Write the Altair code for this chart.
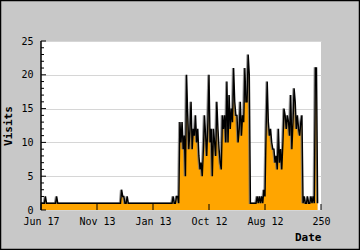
import altair as alt
import pandas as pd

visits = [
    1, 1, 1, 1, 2, 1, 1, 1, 1, 1,
    1, 1, 1, 1, 2, 1, 1, 1, 1, 1,
    1, 1, 1, 1, 1, 1, 1, 1, 1, 1,
    1, 1, 1, 1, 1, 1, 1, 1, 1, 1,
    1, 1, 1, 1, 1, 1, 1, 1, 1, 1,
    1, 1, 1, 1, 1, 1, 1, 1, 1, 1,
    1, 1, 1, 1, 1, 1, 1, 1, 1, 1,
    1, 1, 3, 2, 2, 1, 1, 2, 1, 1,
    1, 1, 1, 1, 1, 1, 1, 1, 1, 1,
    1, 1, 1, 1, 1, 1, 1, 1, 1, 1,
    1, 1, 1, 1, 1, 1, 1, 1, 1, 1,
    1, 1, 1, 1, 1, 1, 1, 1, 2, 1,
    1, 2, 2, 1, 13, 10, 13, 9, 11, 5,
    20, 14, 9, 12, 16, 9, 12, 11, 14, 10,
    12, 8, 6, 7, 5, 9, 14, 11, 8, 13,
    20, 10, 12, 5, 12, 10, 8, 16, 12, 9,
    7, 6, 14, 12, 14, 10, 19, 10, 17, 12,
    15, 13, 21, 16, 14, 14, 10, 12, 16, 11,
    14, 13, 21, 16, 16, 23, 20, 1, 1, 1,
    1, 1, 1, 2, 1, 2, 1, 2, 1, 3,
    2, 12, 19, 13, 11, 12, 10, 9, 9, 7,
    8, 6, 12, 7, 9, 6, 10, 15, 14, 12,
    14, 13, 11, 17, 9, 13, 18, 16, 12, 14,
    12, 11, 13, 14, 1, 2, 1, 1, 2, 1,
    1, 2, 1, 2, 1, 21, 21, 1,
]
x_tick_values = [0, 50, 100, 150, 200, 250]
x_tick_labels = ["Jun 17", "Nov 13", "Jan 13", "Oct 12", "Aug 12", "250"]
y_major = [0, 5, 10, 15, 20, 25]
y_minor = [1, 2, 3, 4, 6, 7, 8, 9, 11, 12, 13, 14, 16, 17, 18, 19, 21, 22, 23, 24]

W, H = 280, 169
FONT = "DejaVu Sans Mono"

df = pd.DataFrame({"i": list(range(len(visits))), "v": visits})
label_expr = " : ".join(
    f"datum.value == {v} ? '{l}'" for v, l in zip(x_tick_values, x_tick_labels)
) + " : ''"

xs = alt.Scale(domain=[0, 250], nice=False, zero=False)
ys = alt.Scale(domain=[0, 25], nice=False)

x_axis = alt.Axis(
    values=x_tick_values, labelExpr=label_expr, ticks=False, domain=False,
    grid=False, labelFlush=False, labelOverlap=False, labelFont=FONT,
    labelFontSize=10, labelColor="black", labelPadding=6, title="Date",
    titleAnchor="end", titleFont=FONT, titleFontSize=11,
    titleFontWeight="bold", titleColor="black", titlePadding=5,
)
y_axis = alt.Axis(
    values=y_major, ticks=False, domain=False, grid=True,
    gridColor="#d6d6d6", gridWidth=1, labelOverlap=False, labelFont=FONT,
    labelFontSize=10, labelColor="black", labelPadding=8, title="Visits",
    titleFont=FONT, titleFontSize=11, titleFontWeight="bold",
    titleColor="black", titlePadding=7,
)


def X(f):
    return alt.X(f, scale=xs, axis=x_axis)


def Y(f):
    return alt.Y(f, scale=ys, axis=y_axis)


base = alt.Chart(df)
area = base.mark_area(color="orange", opacity=1).encode(x=X("i:Q"), y=Y("v:Q"))
shadow = base.mark_line(color="#777777", strokeWidth=1.5, xOffset=-1, opacity=0.8).encode(
    x=X("i:Q"), y=Y("v:Q"))
line = base.mark_line(color="black", strokeWidth=1.4).encode(x=X("i:Q"), y=Y("v:Q"))

ymaj = alt.Chart(pd.DataFrame({"t": y_major})).mark_rule(color="black", strokeWidth=1).encode(
    y=Y("t:Q"), x=alt.value(0), x2=alt.value(5))
ymin = alt.Chart(pd.DataFrame({"t": y_minor})).mark_rule(color="black", strokeWidth=1).encode(
    y=Y("t:Q"), x=alt.value(0), x2=alt.value(3))
xt = alt.Chart(pd.DataFrame({"t": x_tick_values})).mark_rule(color="black", strokeWidth=1).encode(
    x=X("t:Q"), y=alt.value(H), y2=alt.value(H - 6))
yaxis = alt.Chart(pd.DataFrame({"t": [0]})).mark_rule(color="black", strokeWidth=1.5).encode(
    x=alt.value(0), y=alt.value(0), y2=alt.value(H))
frame = alt.Chart(pd.DataFrame({"t": [0]})).mark_rect(
    filled=False, stroke="black", strokeWidth=1.5).encode(
    x=alt.value(-40.5), x2=alt.value(318.5), y=alt.value(-40.5), y2=alt.value(208.5))

chart = alt.layer(area, shadow, line, ymaj, ymin, xt, yaxis, frame).properties(
    width=W, height=H,
    autosize=alt.AutoSizeParams(type="none"),
    padding={"left": 41, "top": 41, "right": 39, "bottom": 40},
    background="#c8c8c8",
).configure_view(fill="white", stroke=None)

chart.save("out.html", embed_options={"renderer": "svg", "actions": False})
